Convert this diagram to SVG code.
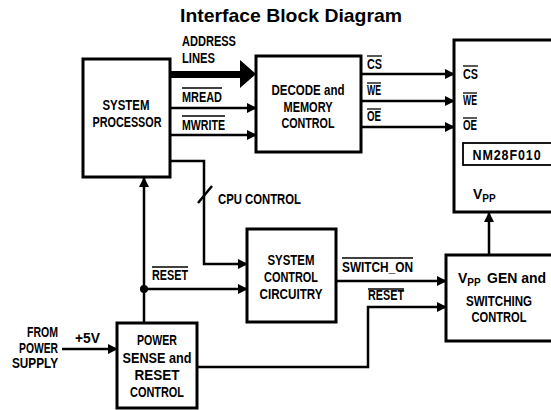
<svg xmlns="http://www.w3.org/2000/svg" width="551" height="410" viewBox="0 0 551 410">
<defs>
<marker id="ah" markerUnits="userSpaceOnUse" markerWidth="10" markerHeight="10" refX="9" refY="5" orient="auto">
<path d="M0,0 L10,5 L0,10 z" fill="#000"/>
</marker>
<style>
.box{fill:#fff;stroke:#000;stroke-width:3}
.ln{fill:none;stroke:#000;stroke-width:2.5}
.ar{fill:none;stroke:#000;stroke-width:2.5;marker-end:url(#ah)}
.ov{stroke:#000;stroke-width:1.3}
text{font-family:"Liberation Sans",Arial,sans-serif;font-size:14px;fill:#000;font-weight:bold}
.c{text-anchor:middle}
.r{text-anchor:end}
.title{font-size:19px;font-weight:bold;text-anchor:middle}
</style>
</defs>
<rect width="551" height="410" fill="#fff"/>
<text class="title" x="291" y="22" textLength="222" lengthAdjust="spacingAndGlyphs">Interface Block Diagram</text>

<g id="connectors">
<polygon points="170,71 240,71 240,60 256,74 240,88 240,78 170,78" fill="#000"/>
<path class="ar" d="M170,108 L256,108"/>
<path class="ar" d="M170,135 L256,135"/>
<path class="ar" d="M361,74 L454,74"/>
<path class="ar" d="M361,101 L454,101"/>
<path class="ar" d="M361,127 L454,127"/>
<path class="ar" d="M170,161 L204,161 L204,264 L247,264"/>
<path class="ln" d="M198,203 L212,186" stroke-width="2"/>
<path class="ar" d="M144,323 L144,178"/>
<path class="ar" d="M144,289 L247,289"/>
<circle cx="144" cy="289" r="4" fill="#000"/>
<path class="ar" d="M336,281 L446,281"/>
<path class="ar" d="M197,367 L368,367 L368,307 L446,307"/>
<path class="ar" d="M489,255 L489,213"/>
<path class="ar" d="M62,349 L117,349"/>
</g>

<g id="labels">
<text x="182" y="46" textLength="54" lengthAdjust="spacingAndGlyphs">ADDRESS</text>
<text x="182" y="63" textLength="33" lengthAdjust="spacingAndGlyphs">LINES</text>
<line class="ov" x1="182" y1="88" x2="222" y2="88"/>
<text x="182" y="102" textLength="40" lengthAdjust="spacingAndGlyphs">MREAD</text>
<line class="ov" x1="182" y1="116" x2="225" y2="116"/>
<text x="182" y="130" textLength="43" lengthAdjust="spacingAndGlyphs">MWRITE</text>
<line class="ov" x1="367" y1="56" x2="382" y2="56"/>
<text x="367" y="69" textLength="15" lengthAdjust="spacingAndGlyphs">CS</text>
<line class="ov" x1="367" y1="83" x2="381" y2="83"/>
<text x="367" y="95" textLength="14" lengthAdjust="spacingAndGlyphs">WE</text>
<line class="ov" x1="367" y1="109" x2="381" y2="109"/>
<text x="367" y="121" textLength="14" lengthAdjust="spacingAndGlyphs">OE</text>
<text x="218" y="204" textLength="83" lengthAdjust="spacingAndGlyphs">CPU CONTROL</text>
<line class="ov" x1="152" y1="267" x2="188" y2="267"/>
<text x="152" y="280" textLength="36" lengthAdjust="spacingAndGlyphs">RESET</text>
<line class="ov" x1="342" y1="258" x2="413" y2="258"/>
<text x="342" y="272" textLength="71" lengthAdjust="spacingAndGlyphs">SWITCH_ON</text>
<line class="ov" x1="368" y1="289" x2="404" y2="289"/>
<text x="368" y="300" textLength="36" lengthAdjust="spacingAndGlyphs">RESET</text>
<text class="r" x="58" y="337" textLength="31" lengthAdjust="spacingAndGlyphs">FROM</text>
<text class="r" x="58" y="353" textLength="39" lengthAdjust="spacingAndGlyphs">POWER</text>
<text class="r" x="58" y="368" textLength="46" lengthAdjust="spacingAndGlyphs">SUPPLY</text>
<text x="75" y="343" textLength="25" lengthAdjust="spacingAndGlyphs">+5V</text>
</g>

<g id="system-processor">
<rect class="box" x="83" y="59" width="87" height="118"/>
<text class="c" x="126" y="110" textLength="47" lengthAdjust="spacingAndGlyphs">SYSTEM</text>
<text class="c" x="127" y="127" textLength="69" lengthAdjust="spacingAndGlyphs">PROCESSOR</text>
</g>

<g id="decode-memory-control">
<rect class="box" x="256" y="56" width="105" height="96"/>
<text class="c" x="308" y="95" textLength="73" lengthAdjust="spacingAndGlyphs">DECODE and</text>
<text class="c" x="308" y="112" textLength="49" lengthAdjust="spacingAndGlyphs">MEMORY</text>
<text class="c" x="308" y="128" textLength="53" lengthAdjust="spacingAndGlyphs">CONTROL</text>
</g>

<g id="nm28f010">
<rect class="box" x="454" y="40" width="110" height="172"/>
<line class="ov" x1="463" y1="66" x2="478" y2="66"/>
<text x="463" y="79" textLength="15" lengthAdjust="spacingAndGlyphs">CS</text>
<line class="ov" x1="463" y1="93" x2="477" y2="93"/>
<text x="463" y="105" textLength="14" lengthAdjust="spacingAndGlyphs">WE</text>
<line class="ov" x1="463" y1="118" x2="477" y2="118"/>
<text x="463" y="130" textLength="14" lengthAdjust="spacingAndGlyphs">OE</text>
<rect x="463" y="143" width="89" height="22" fill="none" stroke="#000" stroke-width="1.8"/>
<text class="c" x="507" y="160" textLength="69" lengthAdjust="spacingAndGlyphs" letter-spacing="1">NM28F010</text>
<text x="473" y="199">V<tspan font-size="10" dy="3">PP</tspan></text>
</g>

<g id="system-control-circuitry">
<rect class="box" x="247" y="229" width="89" height="93"/>
<text class="c" x="291" y="265" textLength="47" lengthAdjust="spacingAndGlyphs">SYSTEM</text>
<text class="c" x="291" y="282" textLength="54" lengthAdjust="spacingAndGlyphs">CONTROL</text>
<text class="c" x="291" y="299" textLength="63" lengthAdjust="spacingAndGlyphs">CIRCUITRY</text>
</g>

<g id="vpp-gen-switching-control">
<rect class="box" x="446" y="255" width="118" height="86"/>
<text x="458" y="283">V<tspan font-size="10" dy="3">PP</tspan><tspan x="487" dy="-3">GEN and</tspan></text>
<text class="c" x="499" y="306" textLength="66" lengthAdjust="spacingAndGlyphs">SWITCHING</text>
<text class="c" x="499" y="322" textLength="55" lengthAdjust="spacingAndGlyphs">CONTROL</text>
</g>

<g id="power-sense-reset-control">
<rect class="box" x="117" y="323" width="80" height="85"/>
<text class="c" x="157" y="345" textLength="40" lengthAdjust="spacingAndGlyphs">POWER</text>
<text class="c" x="157" y="363" textLength="69" lengthAdjust="spacingAndGlyphs">SENSE and</text>
<text class="c" x="157" y="380" textLength="45" lengthAdjust="spacingAndGlyphs">RESET</text>
<text class="c" x="157" y="397" textLength="54" lengthAdjust="spacingAndGlyphs">CONTROL</text>
</g>
</svg>
